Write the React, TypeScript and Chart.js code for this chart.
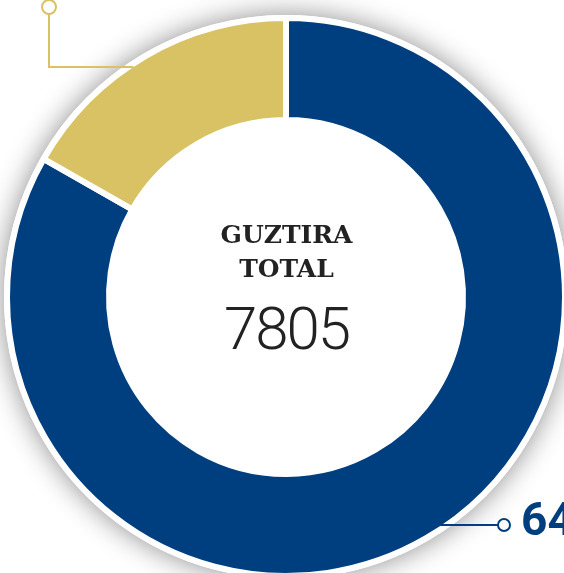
import React, { useEffect, useRef } from "react";
import { Chart, registerables } from "chart.js";

Chart.register(...registerables);

const categories = ["Series A", "Series B"];
const values = [6497, 1308];
const colors = ["#003f7f", "#d9c264"];
const totalValue = "7805";
const centerTitle = ["GUZTIRA", "TOTAL"];
const blueLabel = "6497";

const BORDER = 6;

const decor = {
  id: "decor",
  beforeDatasetsDraw(chart: any) {
    const arc = chart.getDatasetMeta(0).data[0];
    if (!arc) return;
    const { x, y, outerRadius } = arc.getProps(["x", "y", "outerRadius"], true);
    const ctx = chart.ctx;
    ctx.save();
    ctx.shadowColor = "rgba(0,0,0,0.45)";
    ctx.shadowBlur = 28;
    ctx.fillStyle = "#ffffff";
    ctx.beginPath();
    ctx.arc(x, y, outerRadius + BORDER / 2, 0, Math.PI * 2);
    ctx.fill();
    ctx.restore();
  },
  afterDatasetsDraw(chart: any) {
    const arc = chart.getDatasetMeta(0).data[0];
    if (!arc) return;
    const { x, y, outerRadius } = arc.getProps(["x", "y", "outerRadius"], true);
    const R = outerRadius - BORDER / 2;
    const ctx = chart.ctx;
    ctx.save();
    ctx.lineWidth = 2;
    // yellow leader
    const yy = 67;
    const yx = x - Math.sqrt(R * R - (y - yy) * (y - yy));
    ctx.strokeStyle = colors[1];
    ctx.beginPath();
    ctx.moveTo(yx, yy);
    ctx.lineTo(49, yy);
    ctx.lineTo(49, 14);
    ctx.stroke();
    ctx.fillStyle = "#fff";
    ctx.beginPath();
    ctx.arc(49, 7, 7, 0, Math.PI * 2);
    ctx.fill();
    ctx.stroke();
    // blue leader
    const by = 525;
    const bx = x + Math.sqrt(R * R - (by - y) * (by - y));
    ctx.strokeStyle = colors[0];
    ctx.beginPath();
    ctx.moveTo(bx - 4, by);
    ctx.lineTo(498, by);
    ctx.stroke();
    ctx.beginPath();
    ctx.arc(504, by, 6, 0, Math.PI * 2);
    ctx.fill();
    ctx.stroke();
    ctx.restore();
  },
};

export default function App() {
  const ref = useRef<HTMLCanvasElement>(null);
  useEffect(() => {
    if (!ref.current) return;
    const chart = new Chart(ref.current, {
      type: "doughnut",
      data: {
        labels: categories,
        datasets: [
          {
            data: values,
            backgroundColor: colors,
            borderColor: "#ffffff",
            borderWidth: BORDER,
            hoverOffset: 0,
          },
        ],
      },
      options: {
        responsive: false,
        animation: false,
        devicePixelRatio: 1,
        radius: 279,
        cutout: "63.44%",
        layout: { padding: 0 },
        plugins: {
          legend: { display: false },
          tooltip: { enabled: false },
        },
        events: [],
      },
      plugins: [decor],
    });
    return () => chart.destroy();
  }, []);

  return (
    <div
      style={{
        position: "fixed",
        left: 0,
        top: 0,
        width: 564,
        height: 573,
        overflow: "hidden",
        background: "#ffffff",
      }}
    >
      <canvas
        ref={ref}
        width={572}
        height={594}
        style={{ position: "absolute", left: 0, top: 0, width: 572, height: 594 }}
      />
      {centerTitle.map((t, i) => (
        <div
          key={t}
          style={{
            position: "absolute",
            left: 0,
            width: 573,
            top: i === 0 ? 222 : 256,
            textAlign: "center",
            fontFamily: "'DejaVu Serif', 'Liberation Serif', serif",
            fontWeight: 700,
            fontSize: 25,
            lineHeight: "25px",
            color: "#222222",
          }}
        >
          {t}
        </div>
      ))}
      <div
        style={{
          position: "absolute",
          left: 0,
          width: 573,
          top: 299,
          textAlign: "center",
          fontFamily: "Roboto, sans-serif",
          fontWeight: 300,
          fontSize: 60,
          lineHeight: "60px",
          letterSpacing: -2,
          color: "#222222",
        }}
      >
        {totalValue}
      </div>
      <div
        style={{
          position: "absolute",
          left: 521,
          top: 496,
          whiteSpace: "nowrap",
          fontFamily: "Roboto, sans-serif",
          fontWeight: 700,
          fontSize: 46,
          lineHeight: "46px",
          color: colors[0],
        }}
      >
        {blueLabel}
      </div>
    </div>
  );
}
